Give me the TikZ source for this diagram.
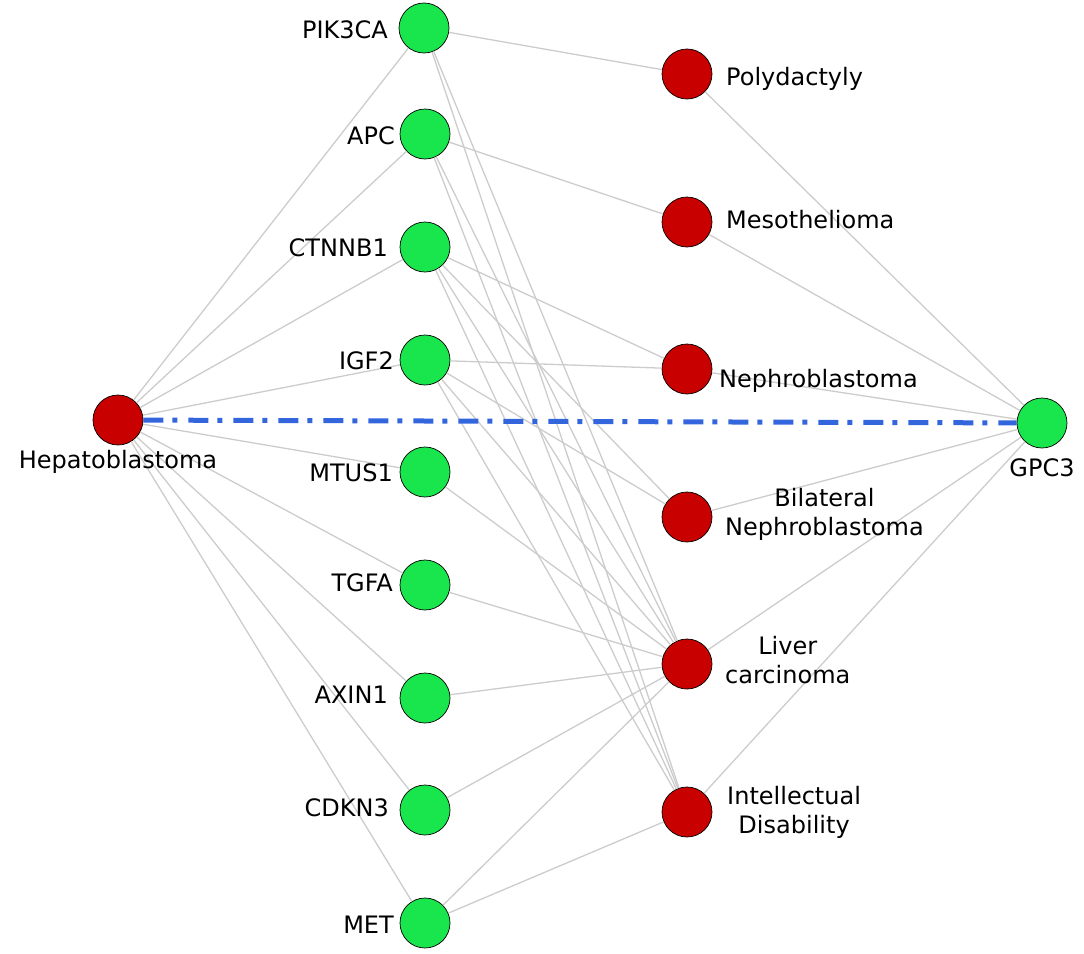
\documentclass[tikz,border=0pt]{standalone}
\usepackage{fontspec}
\setmainfont{DejaVu Sans}
\usepackage{tikz}

\definecolor{genegreen}{RGB}{24,230,76}
\definecolor{disred}{RGB}{200,0,0}
\definecolor{edgegray}{RGB}{204,204,204}
\definecolor{linkblue}{RGB}{51,102,221}

\begin{document}
\begin{tikzpicture}[
    x=1pt, y=-1pt,
    gene/.style={draw, circle, fill=genegreen, minimum size=50pt, inner sep=0pt, line width=0.7pt},
    disease/.style={draw, circle, fill=disred, minimum size=50pt, inner sep=0pt, line width=0.7pt},
    lbl/.style={inner sep=0pt, align=center, font=\fontsize{24}{29}\selectfont},
    line/.style={draw=edgegray, line width=1.3pt},
    link/.style={draw=linkblue, line width=5pt, dash pattern=on 20pt off 9pt on 5pt off 11pt}
]
\useasboundingbox (0,0) rectangle (1084,953);

    % Left: Hepatoblastoma
    \node[disease] (hepato) at (118, 420) {};

    % Middle: genes
    \node[gene] (pik3ca) at (424, 28) {};
    \node[gene] (apc) at (425, 134) {};
    \node[gene] (ctnnb1) at (425, 247) {};
    \node[gene] (igf2) at (425, 360) {};
    \node[gene] (mtus1) at (425, 472) {};
    \node[gene] (tgfa) at (425, 585) {};
    \node[gene] (axin1) at (425, 698) {};
    \node[gene] (cdkn3) at (425, 810) {};
    \node[gene] (met) at (425, 923) {};

    % Right: diseases
    \node[disease] (poly) at (687, 74) {};
    \node[disease] (meso) at (687, 222) {};
    \node[disease] (nephro) at (687, 369) {};
    \node[disease] (bnephro) at (687, 517) {};
    \node[disease] (liver) at (687, 664) {};
    \node[disease] (intdis) at (687, 812) {};

    % Far right: GPC3
    \node[gene] (gpc3) at (1042, 423) {};

    % Hepatoblastoma -- genes
    \draw[line] (hepato) -- (pik3ca);
    \draw[line] (hepato) -- (apc);
    \draw[line] (hepato) -- (ctnnb1);
    \draw[line] (hepato) -- (igf2);
    \draw[line] (hepato) -- (mtus1);
    \draw[line] (hepato) -- (tgfa);
    \draw[line] (hepato) -- (axin1);
    \draw[line] (hepato) -- (cdkn3);
    \draw[line] (hepato) -- (met);

    % genes -- diseases
    \draw[line] (pik3ca) -- (poly);
    \draw[line] (pik3ca) -- (liver);
    \draw[line] (pik3ca) -- (intdis);
    \draw[line] (apc) -- (meso);
    \draw[line] (apc) -- (liver);
    \draw[line] (apc) -- (intdis);
    \draw[line] (ctnnb1) -- (nephro);
    \draw[line] (ctnnb1) -- (bnephro);
    \draw[line] (ctnnb1) -- (liver);
    \draw[line] (ctnnb1) -- (intdis);
    \draw[line] (igf2) -- (nephro);
    \draw[line] (igf2) -- (bnephro);
    \draw[line] (igf2) -- (liver);
    \draw[line] (igf2) -- (intdis);
    \draw[line] (mtus1) -- (liver);
    \draw[line] (tgfa) -- (liver);
    \draw[line] (axin1) -- (liver);
    \draw[line] (cdkn3) -- (liver);
    \draw[line] (met) -- (liver);
    \draw[line] (met) -- (intdis);

    % diseases -- GPC3
    \draw[line] (poly) -- (gpc3);
    \draw[line] (meso) -- (gpc3);
    \draw[line] (nephro) -- (gpc3);
    \draw[line] (bnephro) -- (gpc3);
    \draw[line] (liver) -- (gpc3);
    \draw[line] (intdis) -- (gpc3);

    % Hepatoblastoma -- GPC3
    \draw[link] (hepato) -- (gpc3);

    % labels
    \node[lbl] (hepato_l) at (118, 462) {Hepatoblastoma};

    \node[lbl, anchor=east] (pik3ca_l) at (388, 30) {PIK3CA};
    \node[lbl, anchor=east] (apc_l) at (395, 136) {APC};
    \node[lbl, anchor=east] (ctnnb1_l) at (388, 248) {CTNNB1};
    \node[lbl, anchor=east] (igf2_l) at (394, 361) {IGF2};
    \node[lbl, anchor=east] (mtus1_l) at (393, 473) {MTUS1};
    \node[lbl, anchor=east] (tgfa_l) at (393, 583) {TGFA};
    \node[lbl, anchor=east] (axin1_l) at (388, 695) {AXIN1};
    \node[lbl, anchor=east] (cdkn3_l) at (389, 808) {CDKN3};
    \node[lbl, anchor=east] (met_l) at (394, 925) {MET};

    \node[lbl, anchor=west] (poly_l) at (726, 79) {Polydactyly};
    \node[lbl, anchor=west] (meso_l) at (726, 220) {Mesothelioma};
    \node[lbl, anchor=west] (nephro_l) at (719, 381) {Nephroblastoma};
    \node[lbl, anchor=west] (bnephro_l) at (725, 514) {Bilateral\\Nephroblastoma};
    \node[lbl, anchor=west] (liver_l) at (725, 660) {Liver\\carcinoma};
    \node[lbl, anchor=west] (intdis_l) at (727, 812) {Intellectual\\Disability};

    \node[lbl] (gpc3_l) at (1042, 468) {GPC3};

\end{tikzpicture}
\end{document}
